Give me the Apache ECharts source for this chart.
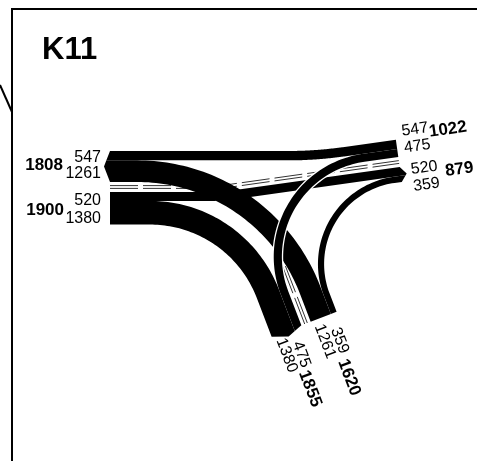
<!DOCTYPE html>
<html>
<head>
<meta charset="utf-8">
<title>K11</title>
<script src="https://cdn.jsdelivr.net/npm/echarts@6.0.0/dist/echarts.min.js"></script>
<style>
  html, body { margin: 0; padding: 0; background: #fff; }
  #chart { width: 477px; height: 461px; }
</style>
</head>
<body>
<div id="chart"></div>
<script>
// Node K11 - turning volumes per movement (veh)
const nodeLabel = 'K11';
const approachIds = ['W', 'E', 'S'];
const flowFrom   = ['W', 'W', 'E', 'E', 'S', 'S'];
const flowTo     = ['E', 'S', 'S', 'W', 'W', 'E'];
const flowVolume = [520, 1380, 475, 547, 1261, 359];

// ---- layout (plot units are pixels) ----
const PX_PER_VEH = 0.01715;   // band width per vehicle
const MEDIAN = 10;            // gap between the two bands of an approach
const ARROW = 6;              // tip length on outgoing band ends
const approachLayout = {
  W: { end: [110, 187], heading: 0 },
  E: { end: [399, 162], heading: 172 },
  S: { end: [306, 323.5], heading: 249 }
};
const turnRadius = { 'W-E': 150, 'W-S': 126, 'E-S': 100, 'E-W': 400, 'S-W': 185, 'S-E': 85 };
const drawOrder = ['S-W', 'W-E', 'S-E', 'E-S', 'W-S', 'E-W'];
const haloFlows = ['E-S'];
// label placement along the reading direction (a) and across it (b)
const labelLayout = {
  'W-out': { sub: -9,   subShift: 1,    step: 16, total: -47,  totalShift: 1.5 },
  'W-in':  { sub: -9,   subShift: -1.7, step: 18, total: -46,  totalShift: -2.2 },
  'E-in':  { sub: 33.6, subShift: 7.7,  step: 17, total: 34,   totalShift: 11.6 },
  'E-out': { sub: 37.5, subShift: -5.3, step: 17, total: 44.6, totalShift: -3.2 },
  'S-in':  { sub: 41.3, subShift: -0.6, step: 14, total: 47,   totalShift: 1.9 },
  'S-out': { sub: 40.6, subShift: -1.5, step: 14, total: 43.4, totalShift: 1.3 }
};
const FONT = '"Liberation Sans", Arial, Helvetica, sans-serif';

// ---- vector helpers ----
const add = (p, q) => [p[0] + q[0], p[1] + q[1]];
const sub = (p, q) => [p[0] - q[0], p[1] - q[1]];
const mul = (p, s) => [p[0] * s, p[1] * s];
const dot = (p, q) => p[0] * q[0] + p[1] * q[1];
const crs = (p, q) => p[0] * q[1] - p[1] * q[0];
const rightOf = d => [-d[1], d[0]];
const leftOf = d => [d[1], -d[0]];
const unit = deg => [Math.cos(deg * Math.PI / 180), Math.sin(deg * Math.PI / 180)];

const appr = {};
approachIds.forEach(id => {
  const d = unit(approachLayout[id].heading);
  appr[id] = { c: approachLayout[id].end, d, right: rightOf(d), left: leftOf(d) };
});

const flows = flowFrom.map((f, i) => ({
  key: f + '-' + flowTo[i], from: f, to: flowTo[i],
  value: flowVolume[i], w: flowVolume[i] * PX_PER_VEH
}));
flows.forEach(fl => { fl.cross = crs(appr[fl.from].d, mul(appr[fl.to].d, -1)); });
const flowByKey = {};
flows.forEach(f => { flowByKey[f.key] = f; });

// stack movements inside each band: left turns next to the median, right turns outside
const bands = [];
const bandByKey = {};
approachIds.forEach(id => {
  ['in', 'out'].forEach(side => {
    const list = flows.filter(f => side === 'in' ? f.from === id : f.to === id)
                      .sort((a, b) => a.cross - b.cross);
    let o = MEDIAN / 2;
    list.forEach(f => {
      const o1 = o; o += f.w;
      if (side === 'in') { f.a1 = o1; f.a2 = o; } else { f.b1 = o1; f.b2 = o; }
    });
    const b = { key: id + '-' + side, id, side, flows: list, inner: MEDIAN / 2, outer: o,
                total: list.reduce((s, f) => s + f.value, 0) };
    bands.push(b); bandByKey[b.key] = b;
  });
});

// straight lead, circular arc, straight lead
function route(P, u, Q, v, R, n) {
  n = n || 56;
  const th = Math.atan2(crs(u, v), dot(u, v));
  const s = th >= 0 ? 1 : -1, at = Math.abs(th);
  const nr = rightOf(u);
  const disp = add(mul(u, R * Math.sin(at)), mul(nr, s * R * (1 - Math.cos(at))));
  const rem = sub(sub(Q, P), disp);
  const det = crs(u, v);
  let L1, L2;
  if (Math.abs(det) < 1e-6) { L1 = dot(rem, u); L2 = 0; }
  else { L1 = crs(rem, v) / det; L2 = crs(u, rem) / det; }
  const A1 = add(P, mul(u, L1));
  const arc = [];
  for (let i = 0; i <= n; i++) {
    const a = at * i / n;
    arc.push({
      p: add(A1, add(mul(u, R * Math.sin(a)), mul(nr, s * R * (1 - Math.cos(a))))),
      t: add(mul(u, Math.cos(a)), mul(nr, s * Math.sin(a)))
    });
  }
  return { pts: [{ p: P, t: u }].concat(arc, [{ p: Q, t: v }]), arc };
}
const edge = (pts, o) => pts.map(q => add(q.p, mul(rightOf(q.t), o)));

function flowGeometry(fl) {
  const A = appr[fl.from], B = appr[fl.to];
  const aMid = (fl.a1 + fl.a2) / 2, bMid = (fl.b1 + fl.b2) / 2;
  const P = add(A.c, mul(A.right, aMid));
  const Q = add(B.c, mul(B.left, bMid));
  const v = mul(B.d, -1);
  const r = route(P, A.d, Q, v, turnRadius[fl.key]);
  const hw = fl.w / 2;
  const band = bandByKey[fl.to + '-out'];
  const m = (band.inner + band.outer) / 2, bh = (band.outer - band.inner) / 2;
  const ext = o => ARROW * Math.max(0, 1 - Math.abs(o - m) / bh);
  const nQ = B.left;
  const cap = [add(add(Q, mul(nQ, -hw)), mul(v, ext(fl.b1)))];
  if (m > fl.b1 && m < fl.b2) cap.push(add(add(Q, mul(nQ, m - bMid)), mul(v, ARROW)));
  cap.push(add(add(Q, mul(nQ, hw)), mul(v, ext(fl.b2))));
  const outline = edge(r.pts, -hw).concat(cap, edge(r.pts, hw).reverse());
  const halo = edge(r.arc, -hw - 1.3).concat(edge(r.arc, hw + 1.3).reverse());
  return { outline, halo };
}

// road centre markings: through road W-E and the southern stub
function centreLines() {
  const W = appr.W, E = appr.E, S = appr.S;
  const through = route(W.c, W.d, E.c, mul(E.d, -1), turnRadius['W-E']).pts;
  const stub = [{ p: S.c, t: S.d }, { p: add(S.c, mul(S.d, 62)), t: S.d }];
  return [through, stub];
}

const chart = echarts.init(document.getElementById('chart'), null, { renderer: 'canvas' });
const toPx = (api, pts) => pts.map(p => api.coord(p));

const option = {
  animation: false,
  grid: { left: 0, right: 0, top: 0, bottom: 0 },
  xAxis: { type: 'value', min: 0, max: 477, show: false },
  yAxis: { type: 'value', min: 0, max: 461, inverse: true, show: false },
  graphic: [
    { type: 'line', silent: true, shape: { x1: 12, y1: 461, x2: 12, y2: 8 }, style: { stroke: '#000', lineWidth: 2 } },
    { type: 'line', silent: true, shape: { x1: 11, y1: 9, x2: 477, y2: 9 }, style: { stroke: '#000', lineWidth: 2 } },
    { type: 'line', silent: true, shape: { x1: 0, y1: 85, x2: 12, y2: 112 }, style: { stroke: '#000', lineWidth: 2 } },
    { type: 'text', silent: true, x: 42, y: 50,
      style: { text: nodeLabel, font: 'bold 31px ' + FONT, fill: '#000', align: 'left', verticalAlign: 'middle' } }
  ],
  series: [
    {
      type: 'custom', name: 'markings', coordinateSystem: 'cartesian2d', silent: true, z: 1,
      data: [[0, 0], [1, 0]],
      renderItem: (params, api) => {
        const line = centreLines()[params.dataIndex];
        const lines = [-1.4, 1.4].map(o => ({
          type: 'polyline',
          shape: { points: toPx(api, edge(line, o)) },
          style: { stroke: '#333', lineWidth: 1, fill: null, lineDash: [28, 5] }
        }));
        return { type: 'group', children: lines };
      }
    },
    {
      type: 'custom', name: 'movements', coordinateSystem: 'cartesian2d', silent: true, z: 2,
      data: drawOrder.map((k, i) => [i, flowByKey[k].value]),
      renderItem: (params, api) => {
        const fl = flowByKey[drawOrder[params.dataIndex]];
        const g = flowGeometry(fl);
        const children = [];
        if (haloFlows.indexOf(fl.key) >= 0) {
          children.push({ type: 'polygon', shape: { points: toPx(api, g.halo) }, style: { fill: '#fff' } });
        }
        children.push({ type: 'polygon', shape: { points: toPx(api, g.outline) }, style: { fill: '#000' } });
        return { type: 'group', children };
      }
    },
    {
      type: 'custom', name: 'volumes', coordinateSystem: 'cartesian2d', silent: true, z: 3,
      data: bands.map((b, i) => [i, b.total]),
      renderItem: (params, api) => {
        const b = bands[params.dataIndex];
        const A = appr[b.id];
        const side = b.side === 'in' ? A.right : A.left;
        const m = (b.inner + b.outer) / 2;
        const B = add(A.c, mul(side, m));
        const out = mul(A.d, -1);
        const r = out[0] >= -1e-9 ? out : mul(out, -1);
        const up = [r[1], -r[0]];
        const rot = -Math.atan2(r[1], r[0]);
        const L = labelLayout[b.key];
        const items = b.flows.map(f => {
          const mid = b.side === 'in' ? (f.a1 + f.a2) / 2 : (f.b1 + f.b2) / 2;
          return { f, proj: dot(sub(add(A.c, mul(side, mid)), B), up) };
        }).sort((x, y) => y.proj - x.proj);
        const n = items.length;
        const children = items.map((it, i) => {
          const bOff = L.subShift + L.step * ((n - 1) / 2 - i);
          const pos = api.coord(add(B, add(mul(r, L.sub), mul(up, bOff))));
          return { type: 'text', x: pos[0], y: pos[1], rotation: rot,
            style: { text: String(it.f.value), font: '16px ' + FONT, fill: '#000',
                     align: 'right', verticalAlign: 'middle' } };
        });
        const tp = api.coord(add(B, add(mul(r, L.total), mul(up, L.totalShift))));
        children.push({ type: 'text', x: tp[0], y: tp[1], rotation: rot,
          style: { text: String(b.total), font: 'bold 17px ' + FONT, fill: '#000',
                   align: L.total < 0 ? 'right' : 'left', verticalAlign: 'middle' } });
        return { type: 'group', children };
      }
    }
  ]
};
chart.setOption(option);
</script>
</body>
</html>
